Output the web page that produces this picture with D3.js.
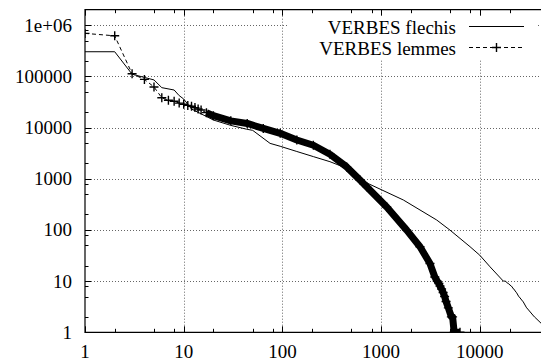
<!DOCTYPE html>
<html>
<head>
<meta charset="utf-8">
<script src="https://cdn.jsdelivr.net/npm/d3@7"></script>
<style>
  html, body { margin: 0; padding: 0; background: #fff; }
  svg { display: block; }
  svg text { font-family: "Liberation Serif", Tinos, "Times New Roman", "DejaVu Serif", serif; font-size: 19px; fill: #000; }
</style>
</head>
<body>
<div id="chart"></div>
<script>
// rank / frequency
const flechisRank = [1, 2, 3, 4, 5, 6, 8, 9, 10, 12, 15, 20, 30, 43, 50, 75, 95, 140, 206, 303, 448, 611, 714,
  1680, 3660, 4990, 7960, 10000, 12700, 17300,
  18100, 19300, 19400, 20800, 20900, 22000, 22100, 23400, 23500, 24800, 24900, 27300, 27400, 29800, 29900, 35700, 35800, 52000];
const flechisFreq = [302000, 302000, 110000, 95000, 85000, 60000, 54000, 42000, 36000, 23000, 18500, 14000, 11000, 9300, 8800, 4900, 4300, 3400, 2700, 2150, 1600, 1090, 830,
  384, 156, 99, 47, 32, 19, 10,
  10, 9, 9, 8, 8, 7, 7, 6, 6, 5, 5, 4, 4, 3, 3, 2, 2, 1];

const lemmesRank = [1, 2, 3, 4, 5, 6, 7, 8, 9, 10, 11, 12, 13, 14, 15, 17, 20, 30, 44, 64, 95, 140, 206, 303, 448, 611, 714,
  1140, 1816, 2478, 3128, 3500, 3700, 3850, 3950, 4100, 4250, 4400, 4550, 4800, 5150, 5300, 5500, 6300];
const lemmesFreq = [689000, 618000, 112000, 87000, 62000, 38000, 34000, 32500, 30000, 28500, 27000, 26000, 24500, 23000, 22000, 19500, 17000, 13500, 12000, 9600, 7700, 5700, 4500, 3000, 1700, 940, 700,
  280, 99, 47, 22, 12, 10, 9, 8, 7, 6, 5, 4, 3, 2, 2, 1, 1];

const xTickValues = [1, 10, 100, 1000, 10000];
const xTickLabels = ['1', '10', '100', '1000', '10000'];
const yTickValues = [1, 10, 100, 1000, 10000, 100000, 1000000];
const yTickLabels = ['1', '10', '100', '1000', '10000', '100000', '1e+06'];
const minorSteps = [2, 5, 8];

const seriesNames = ['VERBES flechis', 'VERBES lemmes'];

const width = 541, height = 364;
const plotLeft = 85, plotTop = 9.7, plotBottom = 332.3, plotRight = 548.8;

const x = d3.scaleLog().domain([1, 50000]).range([plotLeft, plotRight]);
const y = d3.scaleLog().domain([1, 2000000]).range([plotBottom, plotTop]);

const svg = d3.select('#chart').append('svg')
  .attr('width', width).attr('height', height)
  .attr('viewBox', `0 0 ${width} ${height}`);

svg.append('defs').append('clipPath').attr('id', 'plot-clip')
  .append('rect').attr('x', plotLeft).attr('y', plotTop)
  .attr('width', plotRight - plotLeft).attr('height', plotBottom - plotTop);

// grid
const grid = svg.append('g').attr('stroke', '#666').attr('stroke-width', 1).attr('stroke-dasharray', '1,2');
grid.selectAll('line.gx').data(xTickValues.slice(1)).enter().append('line')
  .attr('x1', d => Math.round(x(d)) + 0.5).attr('x2', d => Math.round(x(d)) + 0.5)
  .attr('y1', plotTop).attr('y2', plotBottom);
grid.selectAll('line.gy').data(yTickValues.slice(1)).enter().append('line')
  .attr('y1', d => Math.round(y(d)) + 0.5).attr('y2', d => Math.round(y(d)) + 0.5)
  .attr('x1', plotLeft).attr('x2', plotRight);

// key box hides the grid behind it
svg.append('rect').attr('x', 288).attr('y', 11).attr('width', 248).attr('height', 49).attr('fill', '#fff');

// ticks
const minorX = [], minorY = [];
xTickValues.forEach(v => minorSteps.forEach(m => { if (v * m < 50000) minorX.push(v * m); }));
yTickValues.forEach(v => minorSteps.forEach(m => { if (v * m < 2000000) minorY.push(v * m); }));

const ticks = svg.append('g').attr('stroke', '#000').attr('stroke-width', 1);
const tx = [...xTickValues.map(v => ({ v, len: 6 })), ...minorX.map(v => ({ v, len: 3.5 }))];
const ty = [...yTickValues.map(v => ({ v, len: 6 })), ...minorY.map(v => ({ v, len: 3.5 }))];
tx.forEach(t => {
  const px = Math.round(x(t.v)) + 0.5;
  ticks.append('line').attr('x1', px).attr('x2', px).attr('y1', plotBottom).attr('y2', plotBottom - t.len);
  ticks.append('line').attr('x1', px).attr('x2', px).attr('y1', plotTop).attr('y2', plotTop + t.len);
});
ty.forEach(t => {
  const py = Math.round(y(t.v)) + 0.5;
  ticks.append('line').attr('x1', plotLeft).attr('x2', plotLeft + t.len).attr('y1', py).attr('y2', py);
});

// frame
svg.append('path')
  .attr('d', `M${plotRight},${plotTop}H${plotLeft}V${plotBottom}H${plotRight}`)
  .attr('fill', 'none').attr('stroke', '#000').attr('stroke-width', 1.2);

// tick labels
svg.append('g').selectAll('text').data(xTickValues).enter().append('text')
  .attr('x', d => x(d)).attr('y', plotBottom + 26)
  .attr('text-anchor', 'middle')
  .text((d, i) => xTickLabels[i]);
svg.append('g').selectAll('text').data(yTickValues).enter().append('text')
  .attr('x', 72).attr('y', d => y(d) + 6.5)
  .attr('text-anchor', 'end')
  .text((d, i) => yTickLabels[i]);

// series
const plot = svg.append('g').attr('clip-path', 'url(#plot-clip)');
const flechis = flechisRank.map((r, i) => [r, flechisFreq[i]]);
const lemmes = lemmesRank.map((r, i) => [r, lemmesFreq[i]]);
const line = d3.line().x(d => x(d[0])).y(d => y(d[1]));

plot.append('path').datum(flechis).attr('d', line)
  .attr('fill', 'none').attr('stroke', '#000').attr('stroke-width', 1);

plot.append('path').datum(lemmes).attr('d', line)
  .attr('fill', 'none').attr('stroke', '#000').attr('stroke-width', 1).attr('stroke-dasharray', '4,3');

// past rank ~20 the + marks sit on every rank and merge into a solid band
plot.append('path').datum(lemmes.filter(d => d[0] >= 17)).attr('d', line)
  .attr('fill', 'none').attr('stroke', '#000').attr('stroke-width', 7)
  .attr('stroke-linejoin', 'round').attr('stroke-linecap', 'butt');

const plus = (cx, cy, s) => `M${cx - s},${cy}H${cx + s}M${cx},${cy - s}V${cy + s}`;
plot.append('g').selectAll('path').data(lemmes).enter().append('path')
  .attr('d', d => plus(x(d[0]), y(d[1]), 4.5))
  .attr('stroke', '#000').attr('stroke-width', 1.4).attr('fill', 'none');

// key
const key = svg.append('g');
const keyRows = [27, 48];
seriesNames.forEach((name, i) => {
  key.append('text').attr('x', 456).attr('y', keyRows[i] + 6.5).attr('text-anchor', 'end').text(name);
  key.append('line').attr('x1', 469).attr('x2', 524).attr('y1', keyRows[i] - 0.5).attr('y2', keyRows[i] - 0.5)
    .attr('stroke', '#000').attr('stroke-width', 1)
    .attr('stroke-dasharray', i === 1 ? '4,3' : null);
});
key.append('path').attr('d', plus(496.5, keyRows[1] - 0.5, 4.5)).attr('stroke', '#000').attr('stroke-width', 1.4);
</script>
</body>
</html>
